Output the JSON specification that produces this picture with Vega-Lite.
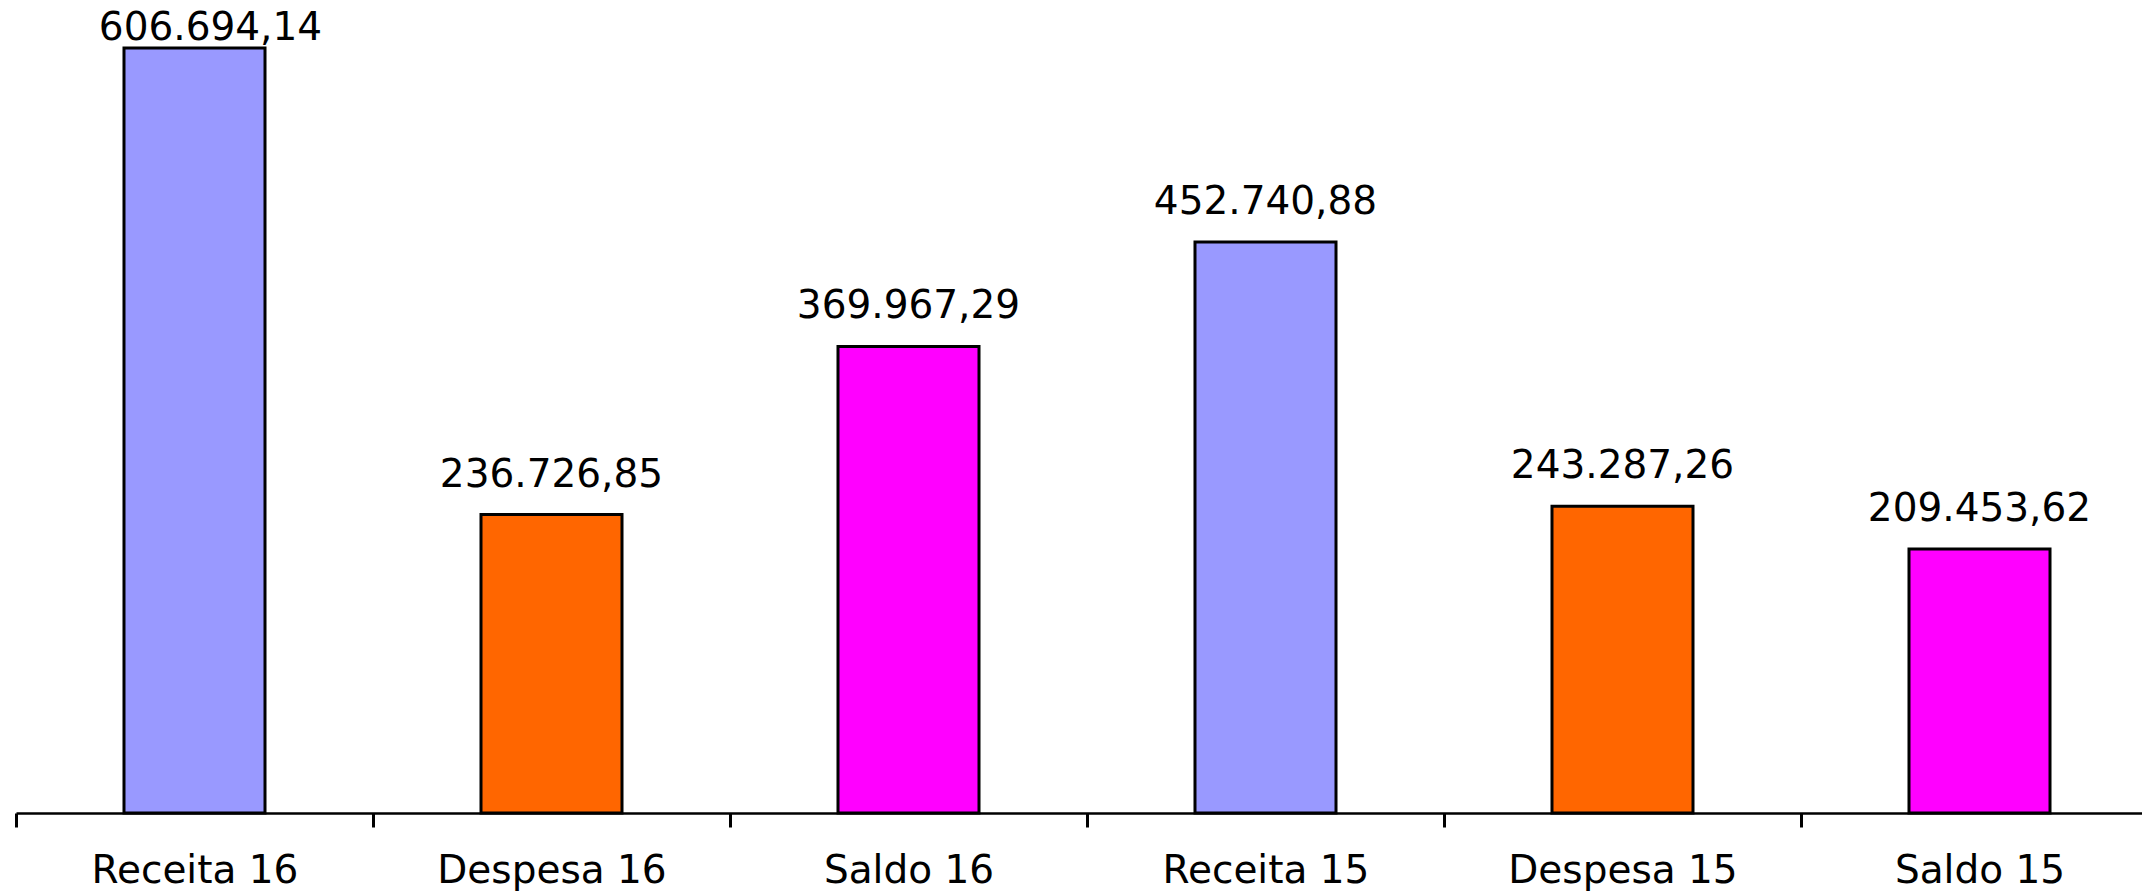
{
  "$schema": "https://vega.github.io/schema/vega-lite/v6.json",
  "width": 2126,
  "height": 813,
  "padding": {"left": 16, "top": 0, "right": 0, "bottom": 78},
  "autosize": {"type": "none"},
  "background": "white",
  "config": {
    "view": {"stroke": null},
    "locale": {"number": {"decimal": ",", "thousands": ".", "grouping": [3], "currency": ["R$ ", ""]}}
  },
  "data": {
    "values": [
      {"categoria": "Receita 16", "tipo": "Receita", "valor": 606694.14},
      {"categoria": "Despesa 16", "tipo": "Despesa", "valor": 236726.85},
      {"categoria": "Saldo 16", "tipo": "Saldo", "valor": 369967.29},
      {"categoria": "Receita 15", "tipo": "Receita", "valor": 452740.88},
      {"categoria": "Despesa 15", "tipo": "Despesa", "valor": 243287.26},
      {"categoria": "Saldo 15", "tipo": "Saldo", "valor": 209453.62}
    ]
  },
  "encoding": {
    "x": {
      "field": "categoria",
      "type": "nominal",
      "sort": null,
      "scale": {"range": [0, 2142], "paddingInner": 0, "paddingOuter": 0},
      "axis": {
        "title": null,
        "tickBand": "extent",
        "domainColor": "black",
        "domainWidth": 2.5,
        "tickColor": "black",
        "tickWidth": 3,
        "tickSize": 14,
        "labelFont": "DejaVu Sans",
        "labelFontSize": 39,
        "labelColor": "black",
        "labelBaseline": "alphabetic",
        "labelPadding": 55,
        "labelAngle": 0,
        "labelLimit": 0,
        "labelOverlap": false,
        "labelBound": false,
        "grid": false
      }
    },
    "y": {
      "field": "valor",
      "type": "quantitative",
      "scale": {"domain": [0, 644760], "nice": false, "zero": true},
      "axis": null
    }
  },
  "layer": [
    {
      "mark": {"type": "bar", "width": {"band": 0.395}, "stroke": "black", "strokeWidth": 3},
      "encoding": {
        "color": {
          "field": "tipo",
          "type": "nominal",
          "scale": {"domain": ["Receita", "Despesa", "Saldo"], "range": ["#9999FF", "#FF6600", "#FF00FF"]},
          "legend": null
        }
      }
    },
    {
      "transform": [{"filter": "datum.valor < 600000"}],
      "mark": {"type": "text", "baseline": "alphabetic", "align": "center", "dy": -28, "font": "DejaVu Sans", "fontSize": 39, "color": "black"},
      "encoding": {"text": {"field": "valor", "type": "quantitative", "format": ",.2f"}}
    },
    {
      "transform": [{"filter": "datum.valor >= 600000"}],
      "mark": {"type": "text", "baseline": "alphabetic", "align": "center", "dy": -8, "dx": 16, "font": "DejaVu Sans", "fontSize": 39, "color": "black"},
      "encoding": {"text": {"field": "valor", "type": "quantitative", "format": ",.2f"}}
    }
  ]
}
